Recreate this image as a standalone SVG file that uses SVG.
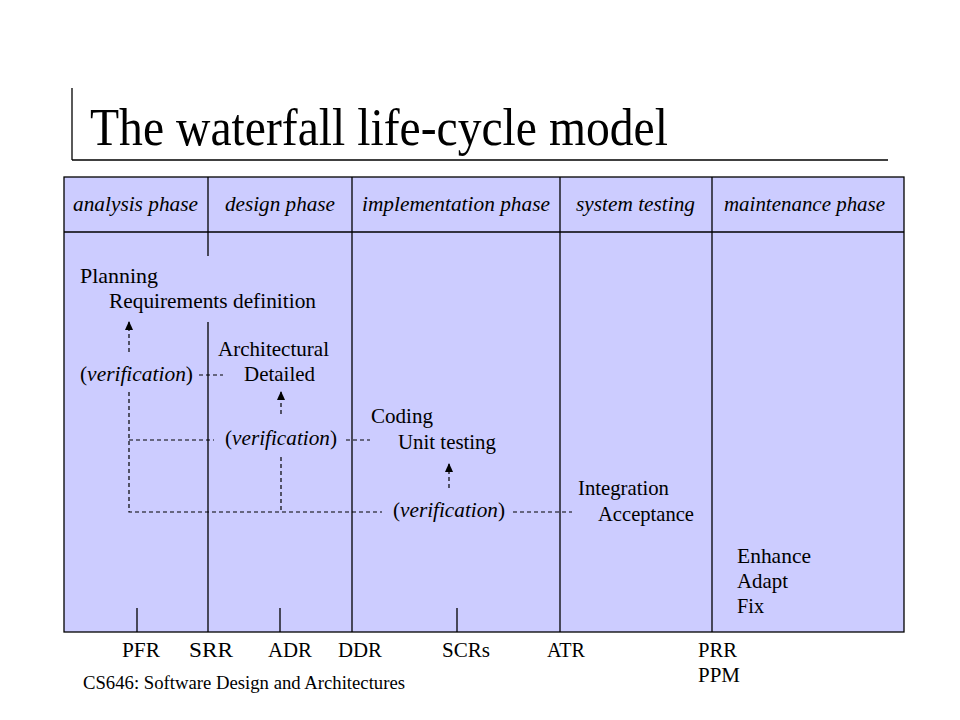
<svg xmlns="http://www.w3.org/2000/svg" width="960" height="720" viewBox="0 0 960 720">
<style>
text{font-family:"Liberation Serif","Times New Roman",serif;fill:#000}
.b{font-size:21px}
.h{font-size:21px;font-style:italic}
.t{font-size:52px}
.f{font-size:18px}
.ln{stroke:#000;stroke-width:1.3;fill:none}
.d{stroke:#000;stroke-width:1.2;stroke-dasharray:4 3;fill:none}
</style>
<defs>
<marker id="ah" markerWidth="9" markerHeight="8" refX="8" refY="4" orient="auto" markerUnits="userSpaceOnUse" viewBox="0 0 9 8">
<path d="M0,0 L9,4 L0,8 Z" fill="#000"/>
</marker>
</defs>
<rect width="960" height="720" fill="#fff"/>
<g id="title">
<line class="ln" x1="72" y1="88" x2="72" y2="160"/>
<line class="ln" x1="72" y1="160" x2="888" y2="160"/>
<text class="t" x="90" y="145" textLength="578" lengthAdjust="spacingAndGlyphs">The waterfall life-cycle model</text>
</g>
<g id="table">
<rect x="64" y="177" width="840" height="455" fill="#ccccff" stroke="#000" stroke-width="1.3"/>
<line class="ln" x1="64" y1="232" x2="904" y2="232"/>
<line class="ln" x1="208" y1="177" x2="208" y2="256"/>
<line class="ln" x1="208" y1="322" x2="208" y2="632"/>
<line class="ln" x1="352" y1="177" x2="352" y2="632"/>
<line class="ln" x1="560" y1="177" x2="560" y2="632"/>
<line class="ln" x1="712" y1="177" x2="712" y2="632"/>
<line class="ln" x1="137" y1="608" x2="137" y2="632"/>
<line class="ln" x1="280" y1="608" x2="280" y2="632"/>
<line class="ln" x1="457" y1="608" x2="457" y2="632"/>
</g>
<g id="headers">
<text class="h" x="73" y="211" textLength="125" lengthAdjust="spacingAndGlyphs">analysis phase</text>
<text class="h" x="225" y="211" textLength="110" lengthAdjust="spacingAndGlyphs">design phase</text>
<text class="h" x="362" y="211" textLength="188" lengthAdjust="spacingAndGlyphs">implementation phase</text>
<text class="h" x="576" y="211" textLength="119" lengthAdjust="spacingAndGlyphs">system  testing</text>
<text class="h" x="724" y="211" textLength="161" lengthAdjust="spacingAndGlyphs">maintenance phase</text>
</g>
<g id="analysis">
<text class="b" x="80" y="283" textLength="78" lengthAdjust="spacingAndGlyphs">Planning</text>
<text class="b" x="109" y="308" textLength="207" lengthAdjust="spacingAndGlyphs">Requirements definition</text>
</g>
<g id="verif1">
<text class="b" x="80" y="381" textLength="113" lengthAdjust="spacingAndGlyphs">(<tspan font-style="italic">verification</tspan>)</text>
</g>
<g id="design">
<text class="b" x="218" y="356" textLength="111" lengthAdjust="spacingAndGlyphs">Architectural</text>
<text class="b" x="244" y="381" textLength="71" lengthAdjust="spacingAndGlyphs">Detailed</text>
</g>
<g id="verif2">
<text class="b" x="225" y="445" textLength="112" lengthAdjust="spacingAndGlyphs">(<tspan font-style="italic">verification</tspan>)</text>
</g>
<g id="implementation">
<text class="b" x="371" y="423" textLength="62" lengthAdjust="spacingAndGlyphs">Coding</text>
<text class="b" x="398" y="449" textLength="98" lengthAdjust="spacingAndGlyphs">Unit testing</text>
</g>
<g id="verif3">
<text class="b" x="393" y="517" textLength="112" lengthAdjust="spacingAndGlyphs">(<tspan font-style="italic">verification</tspan>)</text>
</g>
<g id="testing">
<text class="b" x="578" y="495" textLength="91" lengthAdjust="spacingAndGlyphs">Integration</text>
<text class="b" x="598" y="521" textLength="96" lengthAdjust="spacingAndGlyphs">Acceptance</text>
</g>
<g id="maintenance">
<text class="b" x="737" y="563" textLength="74" lengthAdjust="spacingAndGlyphs">Enhance</text>
<text class="b" x="737" y="588" textLength="51" lengthAdjust="spacingAndGlyphs">Adapt</text>
<text class="b" x="737" y="613" textLength="27" lengthAdjust="spacingAndGlyphs">Fix</text>
</g>
<g id="milestones">
<text class="b" x="122" y="657" textLength="38" lengthAdjust="spacingAndGlyphs">PFR</text>
<text class="b" x="189" y="657" textLength="44" lengthAdjust="spacingAndGlyphs">SRR</text>
<text class="b" x="268" y="657" textLength="44" lengthAdjust="spacingAndGlyphs">ADR</text>
<text class="b" x="338" y="657" textLength="44" lengthAdjust="spacingAndGlyphs">DDR</text>
<text class="b" x="442" y="657" textLength="48" lengthAdjust="spacingAndGlyphs">SCRs</text>
<text class="b" x="547" y="657" textLength="38" lengthAdjust="spacingAndGlyphs">ATR</text>
<text class="b" x="698" y="657" textLength="39" lengthAdjust="spacingAndGlyphs">PRR</text>
<text class="b" x="698" y="682" textLength="42" lengthAdjust="spacingAndGlyphs">PPM</text>
</g>
<g id="footer">
<text class="f" x="83" y="689" textLength="322" lengthAdjust="spacingAndGlyphs">CS646: Software Design and Architectures</text>
</g>
<g id="connectors">
<line class="d" x1="129" y1="352" x2="129" y2="322" marker-end="url(#ah)"/>
<line class="d" x1="281" y1="414" x2="281" y2="392" marker-end="url(#ah)"/>
<line class="d" x1="449" y1="488" x2="449" y2="464" marker-end="url(#ah)"/>
<line class="d" x1="199" y1="375" x2="223" y2="375"/>
<path class="d" d="M129,392 V512 H382"/>
<line class="d" x1="129" y1="440" x2="214" y2="440"/>
<line class="d" x1="346" y1="440" x2="370" y2="440"/>
<line class="d" x1="281" y1="457" x2="281" y2="512"/>
<line class="d" x1="513" y1="512" x2="572" y2="512"/>
</g>
</svg>
